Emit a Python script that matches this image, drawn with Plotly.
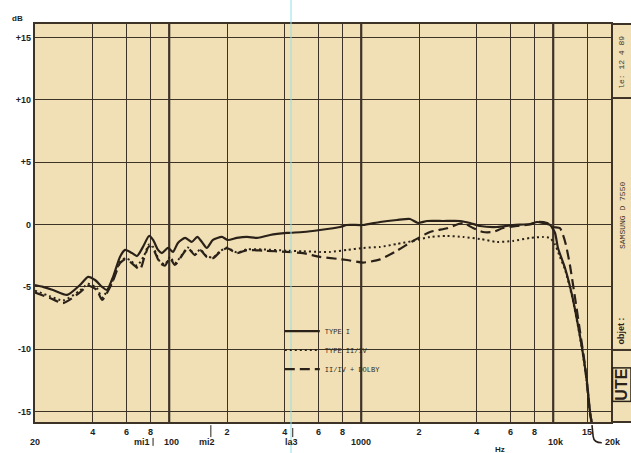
import math
import plotly.graph_objects as go

# Frequency response of the cassette deck, three tape settings (Hz, dB)
freq_type1 = [20, 22, 24.8, 29.4, 34.3, 37.8, 41.1, 44.7, 47.4, 51, 55.4, 58.9, 64, 68, 73,
              78.5, 82.4, 87.5, 91.7, 98.6, 104.7, 111, 121, 131, 140, 148, 157, 169, 188, 202,
              225, 254, 287, 335, 410, 498, 610, 776, 843, 1022, 1253, 1535, 1796, 1976, 2203,
              2667, 3273, 3690, 4160, 5094, 6180, 7570, 8240, 8850, 9620, 10220, 10590, 11520,
              12530, 13460, 14130, 14990, 15550, 15920]
db_type1 = [-4.85, -5.0, -5.25, -5.65, -4.85, -4.2, -4.45, -5.0, -5.25, -4.2, -2.6, -2.04, -2.29,
            -2.53, -1.8, -0.92, -1.24, -2.04, -2.29, -1.88, -2.2, -1.48, -1.08, -1.4, -1.0, -1.4,
            -1.88, -1.24, -1.0, -1.24, -1.08, -1.0, -1.08, -0.84, -0.68, -0.6, -0.44, -0.2, -0.04,
            -0.04, 0.2, 0.36, 0.44, 0.12, 0.28, 0.28, 0.28, 0.12, -0.12, -0.2, -0.04, 0.04, 0.2,
            0.12, -0.04, -0.68, -1.88, -3.49, -5.65, -8.06, -9.9, -12.6, -15.0, -16.0]

freq_type2 = [20, 23.9, 28, 34.3, 37.8, 42, 44.7, 50.4, 55.4, 58.9, 62.5, 68, 74, 78.5, 82.4,
              89.6, 95, 101, 107, 117, 125, 136, 145, 157, 169, 184, 200, 225, 254, 308, 410,
              498, 610, 688, 843, 1022, 1253, 1535, 1862, 2281, 2798, 3390, 4160, 5094, 6180,
              7570, 8850, 9620, 10220, 10840, 11520, 12530, 13460, 14130, 14990, 15550, 15920]
db_type2 = [-5.3, -5.75, -6.1, -5.3, -4.75, -5.1, -5.85, -4.6, -3.0, -2.7, -2.85, -3.3, -2.5,
            -1.6, -1.8, -3.0, -3.2, -2.6, -3.1, -2.4, -1.85, -2.4, -2.0, -2.55, -2.65, -2.15,
            -1.85, -2.25, -2.0, -2.0, -2.1, -2.15, -2.2, -2.2, -2.04, -1.88, -1.8, -1.56, -1.32,
            -1.0, -0.92, -1.0, -1.16, -1.4, -1.32, -1.08, -1.0, -1.08, -1.6, -2.6, -3.6, -5.75,
            -8.15, -10.0, -12.7, -15.0, -16.0]

freq_dolby = [20, 23.9, 28, 34.3, 37.8, 42, 44.7, 50.4, 55.4, 58.9, 62.5, 70.5, 74, 78.5, 82.4,
              89.6, 95, 101, 107, 117, 125, 136, 145, 157, 169, 184, 200, 225, 254, 308, 410,
              498, 610, 748, 843, 1022, 1253, 1535, 1862, 2281, 2798, 3390, 3820, 4310, 4853,
              5477, 6480, 7570, 8340, 9290, 9980, 10840, 11250, 11650, 12220, 13000, 13800,
              14640, 15550, 15920]
db_dolby = [-5.45, -5.9, -6.3, -5.45, -4.9, -5.25, -6.05, -4.7, -3.1, -2.8, -3.0, -3.6, -2.7,
            -1.75, -1.95, -3.1, -3.3, -2.7, -3.25, -2.45, -1.9, -2.45, -2.05, -2.6, -2.7, -2.2,
            -1.9, -2.3, -2.05, -2.1, -2.2, -2.3, -2.6, -2.75, -2.85, -3.05, -2.8, -2.1, -1.32,
            -0.6, -0.3, 0.12, -0.28, -0.6, -0.6, -0.28, -0.12, 0.0, 0.2, 0.12, -0.2, -0.3, -0.84,
            -1.64, -3.25, -5.9, -8.6, -11.3, -15.2, -16.0]

series_names = ["TYPE I", "TYPE II/IV", "II/IV + DOLBY"]

# Axis ticks
x_tickvals = [40, 60, 80, 100, 200, 400, 600, 800, 1000, 2000, 4000, 6000, 8000, 10000, 15000]
x_ticktext = ["4", "6", "8", "", "2", "4", "6", "8", "", "2", "4", "6", "8", "", "15"]
decade_lines = [100, 1000, 10000]
y_tickvals = [-15, -10, -5, 0, 5, 10, 15]
y_ticktext = ["-15", "-10", "-5", "0", "+5", "+10", "+15"]
lower_labels = [("20", 20), ("mi1", 72), ("100", 103), ("mi2", 158), ("la3", 432),
                ("1000", 1000), ("10k", 10400), ("20k", 20500)]
note_marks = [("mi1", 82.4), ("mi2", 164.8), ("la3", 440)]

F_MIN, F_MAX = 20, 20000
PAPER = "#f1e0b6"
INK = "#2a2119"
GRID = "#3d3226"


def xp(f):
    """Paper x coordinate of a frequency on the log axis."""
    return (math.log10(f) - math.log10(F_MIN)) / (math.log10(F_MAX) - math.log10(F_MIN))


fig = go.Figure()
styles = [
    dict(color=INK, width=2.2),
    dict(color=INK, width=2.0, dash="2px,3px"),
    dict(color=INK, width=2.2, dash="10px,5px"),
]
for name, fx, fy, st in zip(series_names, [freq_type1, freq_type2, freq_dolby],
                            [db_type1, db_type2, db_dolby], styles):
    fig.add_trace(go.Scatter(
        x=fx, y=fy, mode="lines", name=name, legendgroup=name,
        line=dict(shape="spline", smoothing=0.6, **st),
        cliponaxis=False,
    ))

shapes = []
# Side panel background and its frame
shapes.append(dict(type="rect", xref="paper", yref="paper", x0=1.0, x1=1.05, y0=0, y1=1,
                   fillcolor=PAPER, line=dict(width=0), layer="below"))
for y in (0.0, 1.0, 0.814, 0.181):
    shapes.append(dict(type="line", xref="paper", yref="paper", x0=1.0, x1=1.05, y0=y, y1=y,
                       line=dict(color=GRID, width=2)))
# Heavier decade lines
for f in decade_lines:
    shapes.append(dict(type="line", xref="paper", yref="paper", x0=xp(f), x1=xp(f), y0=0, y1=1,
                       line=dict(color=GRID, width=2.2), layer="below"))
# A440 reference line
shapes.append(dict(type="line", xref="paper", yref="paper", x0=xp(440) - 0.003, x1=xp(440) - 0.003,
                   y0=-0.1, y1=1.07, line=dict(color="#8fe0e6", width=1)))
# Note tick marks under the axis
note_y = {"mi1": (-0.04, -0.06), "mi2": (-0.008, -0.038), "la3": (-0.015, -0.038)}
for nm, f in note_marks:
    y0, y1 = note_y[nm]
    shapes.append(dict(type="line", xref="paper", yref="paper", x0=xp(f), x1=xp(f), y0=y0, y1=y1,
                       line=dict(color=INK, width=1)))
# Hook from the 15 kHz label to 20k
shapes.append(dict(type="path", xref="paper", yref="paper",
                   path="M 0.967,-0.008 L 0.969,-0.036 Q 0.970,-0.052 0.984,-0.052",
                   line=dict(color=INK, width=1.6)))

annotations = []
tick_font = dict(family="Liberation Sans", size=9, color="#1e1e1e", weight="bold")
for txt, f in lower_labels:
    annotations.append(dict(text=txt, xref="paper", yref="paper", x=xp(f), y=-0.05,
                            showarrow=False, font=tick_font, xanchor="center", yanchor="middle"))
annotations.append(dict(text="Hz", xref="paper", yref="paper", x=xp(5300), y=-0.07,
                        showarrow=False, font=dict(family="Liberation Sans", size=8, color="#1e1e1e", weight="bold"),
                        xanchor="center", yanchor="middle"))
annotations.append(dict(text="dB", xref="paper", yref="paper", x=-0.031, y=1.015,
                        showarrow=False, font=dict(family="Liberation Sans", size=8, color="#1e1e1e", weight="bold"),
                        xanchor="center", yanchor="middle"))
panel_font = dict(family="Liberation Mono", size=8, color="#3a3026")
annotations += [
    dict(text="le: 12 4 89", xref="paper", yref="paper", x=1.019, y=0.905, textangle=-90,
         showarrow=False, font=panel_font, xanchor="center", yanchor="middle"),
    dict(text="SAMSUNG D 7550", xref="paper", yref="paper", x=1.019, y=0.52, textangle=-90,
         showarrow=False, font=panel_font, xanchor="center", yanchor="middle"),
    dict(text="objet :", xref="paper", yref="paper", x=1.019, y=0.23, textangle=-90,
         showarrow=False, font=dict(family="Liberation Sans", size=9, color="#2a2119", weight="bold"),
         xanchor="center", yanchor="middle"),
    dict(text="UTE", xref="paper", yref="paper", x=1.019, y=0.095, textangle=-90,
         showarrow=False, font=dict(family="Liberation Sans", size=16, color="#2a2119", weight="bold"),
         xanchor="center", yanchor="middle", bordercolor="#2a2119", borderwidth=1.5, borderpad=0),
]

fig.update_layout(
    width=631, height=453,
    margin=dict(l=35, r=20, t=24, b=31),
    paper_bgcolor="white",
    plot_bgcolor=PAPER,
    shapes=shapes,
    annotations=annotations,
    showlegend=True,
    legend=dict(x=0.425, y=0.265, xanchor="left", yanchor="top",
                bgcolor="rgba(0,0,0,0)", font=dict(family="Liberation Mono", size=7, color="#2f2820"),
                itemwidth=35, tracegroupgap=4, traceorder="normal"),
    xaxis=dict(type="log", range=[math.log10(F_MIN), math.log10(F_MAX)],
               tickvals=x_tickvals, ticktext=x_ticktext, tickfont=tick_font,
               showgrid=True, gridcolor=GRID, gridwidth=1.3,
               showline=True, linecolor=GRID, linewidth=2.2, mirror=True,
               ticks="", zeroline=False, fixedrange=True),
    yaxis=dict(range=[-15.84, 16.08], tickvals=y_tickvals, ticktext=y_ticktext,
               tickfont=tick_font, showgrid=True, gridcolor=GRID, gridwidth=1.4,
               zeroline=False, showline=True, linecolor=GRID, linewidth=2.2, mirror=True,
               ticks="", fixedrange=True),
)

fig.write_html("out.html")
